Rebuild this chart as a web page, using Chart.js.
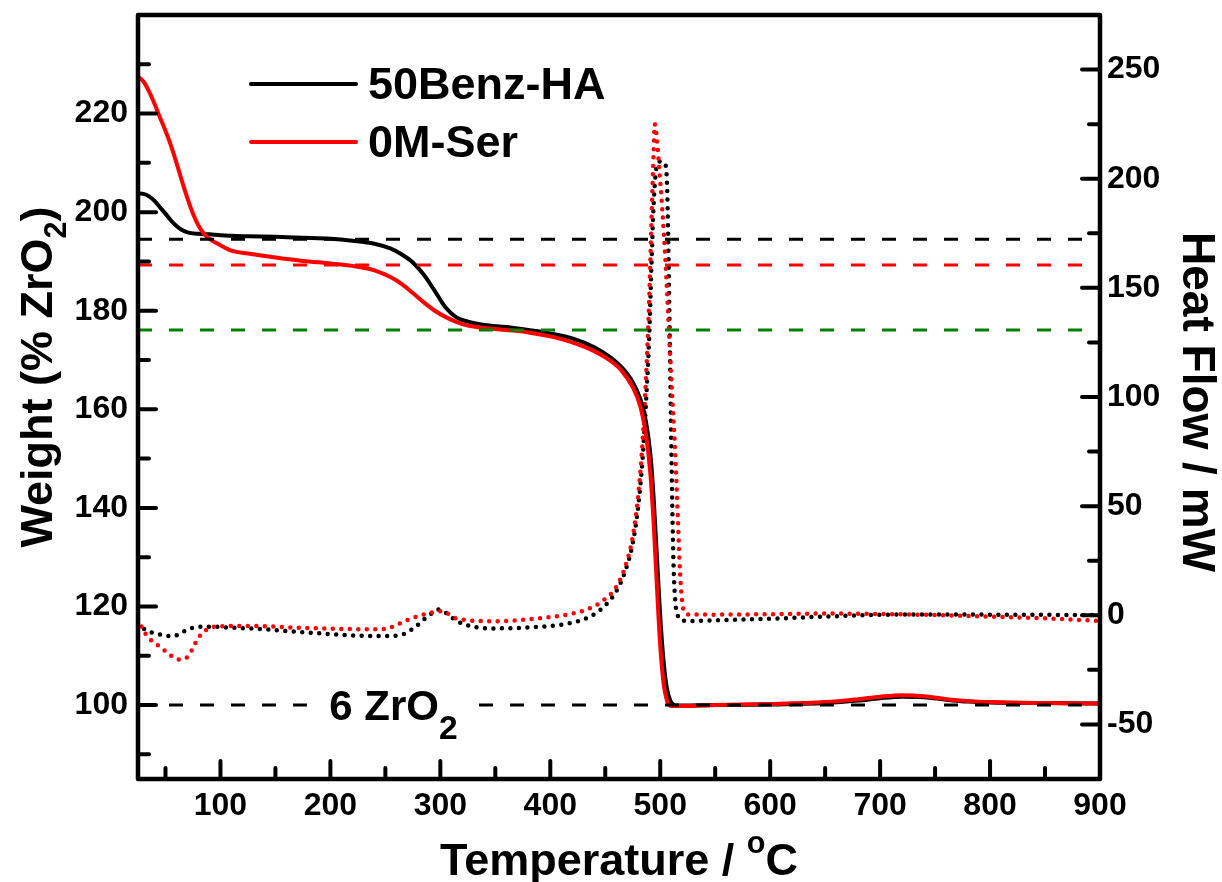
<!DOCTYPE html>
<html>
<head>
<meta charset="utf-8">
<script src="https://cdn.jsdelivr.net/npm/chart.js@4.4.1/dist/chart.umd.min.js"></script>
<style>
  html, body { margin: 0; padding: 0; background: #ffffff; }
  #wrap { width: 1222px; height: 882px; }
  canvas { display: block; }
</style>
</head>
<body>
<div id="wrap"><canvas id="tga" width="1222" height="882"></canvas></div>
<script>
// ---- TGA weight curves (left axis, % of ZrO2 residue) ----
const wTempBenz = [25, 30, 35, 40, 45, 50, 55, 60, 65, 70, 80, 90, 100, 125, 150, 175, 200, 220, 240, 255, 265, 275, 285, 295, 305, 315, 325, 340, 360, 380, 400, 420, 440, 455, 465, 475, 482, 487, 491, 494, 497, 500, 503, 506, 509, 512, 515, 520, 550, 600, 650, 680, 700, 720, 740, 760, 780, 800, 850, 900];
const weightBenz = [203.8, 203.7, 203.2, 202.3, 201.0, 199.7, 198.3, 197.2, 196.4, 195.9, 195.6, 195.5, 195.3, 195.1, 195.0, 194.8, 194.6, 194.2, 193.6, 192.6, 191.4, 189.8, 187.3, 184.0, 180.6, 178.6, 177.8, 177.1, 176.7, 176.1, 175.4, 174.4, 172.6, 170.5, 168.5, 165.5, 162.0, 157.5, 151.0, 142.0, 130.0, 118.0, 109.0, 103.5, 101.0, 100.1, 99.9, 99.9, 100.0, 100.1, 100.4, 100.9, 101.4, 101.7, 101.6, 101.1, 100.7, 100.5, 100.4, 100.3];

const wTempSer = [25, 30, 35, 40, 45, 50, 55, 60, 65, 70, 75, 80, 85, 90, 100, 110, 125, 150, 175, 200, 220, 240, 255, 265, 275, 285, 295, 305, 315, 325, 340, 360, 380, 400, 420, 440, 455, 465, 475, 482, 487, 491, 494, 497, 500, 503, 506, 509, 512, 520, 550, 600, 650, 680, 700, 720, 740, 760, 780, 800, 850, 900];
const weightSer = [227.5, 226.5, 224.5, 222.0, 219.2, 216.5, 213.5, 210.0, 206.3, 202.8, 199.7, 197.3, 195.6, 194.6, 193.3, 192.2, 191.6, 190.8, 190.1, 189.6, 189.1, 188.2, 186.8, 185.4, 183.6, 181.7, 180.0, 178.7, 177.7, 177.0, 176.5, 176.1, 175.6, 174.8, 173.6, 171.8, 169.8, 167.8, 164.5, 160.5, 155.0, 147.0, 137.0, 124.0, 112.0, 104.5, 101.0, 99.9, 99.8, 99.8, 100.0, 100.2, 100.6, 101.2, 101.7, 102.0, 101.8, 101.2, 100.8, 100.6, 100.4, 100.3];

// ---- DSC heat flow curves (right axis, mW) ----
const hTempBenz = [25, 30, 35, 40, 50, 56, 62, 70, 80, 90, 110, 140, 170, 200, 230, 250, 262, 270, 278, 286, 292, 298, 304, 312, 320, 335, 350, 370, 390, 410, 425, 440, 450, 460, 468, 475, 480, 484, 487, 490, 492, 494, 496, 498, 501, 504, 506, 508, 510, 512, 514, 517, 521, 530, 550, 600, 650, 700, 750, 800, 850, 900];
const heatBenz = [-3.5, -6.0, -7.5, -8.2, -9.3, -9.6, -8.8, -6.5, -5.3, -5.2, -5.7, -6.4, -7.6, -8.6, -9.4, -9.5, -9.2, -7.8, -5.0, -1.5, 0.8, 2.6, 1.5, -1.6, -3.8, -5.6, -6.0, -5.8, -5.3, -4.3, -2.8, 0.5, 4.5, 11, 20, 33, 50, 72, 97, 128, 160, 188, 203, 207, 208, 207, 200, 150, 80, 25, 5, -1.0, -2.5, -2.6, -2.3, -1.6, -0.6, 0.2, 0.4, 0.3, 0.2, 0.1];

const hTempSer = [25, 30, 35, 40, 48, 55, 62, 67, 71, 75, 79, 84, 90, 100, 120, 140, 170, 200, 230, 245, 255, 262, 270, 280, 290, 298, 304, 312, 320, 335, 355, 380, 400, 420, 435, 450, 460, 468, 475, 480, 484, 487, 490, 492, 494, 495, 497, 499, 502, 505, 508, 511, 514, 516, 518, 520, 522, 526, 550, 600, 650, 700, 750, 800, 850, 900];
const heatSer = [-1.5, -7.0, -10.5, -12.5, -15.7, -18.5, -20.3, -20.0, -18.6, -15.0, -11.0, -8.0, -5.8, -5.0, -4.9, -5.0, -5.7, -6.1, -6.4, -6.4, -5.5, -4.0, -2.2, -0.3, 1.0, 1.9, 1.6, -1.0, -2.0, -2.6, -2.7, -1.8, -0.8, 0.8, 3.0, 7.5, 13, 22, 36, 55, 80, 108, 145, 180, 212, 225, 218, 205, 185, 160, 130, 100, 70, 45, 20, 6, 1.5, 0.4, 0.3, 0.5, 0.8, 0.6, 0.1, -0.6, -1.4, -2.6];

// ---- reference levels (left axis) ----
const refLevels = [194.5, 189.3, 176.1, 100];
const refColors = ['#000000', '#ff0000', '#008000', '#000000'];

// ---- axes ----
const tempRange = [25, 900];
const weightRange = [85, 240];
const heatRange = [-75, 275];
const tempTicks = [100, 200, 300, 400, 500, 600, 700, 800, 900];
const tempMinor = [50, 150, 250, 350, 450, 550, 650, 750, 850];
const weightTicks = [100, 120, 140, 160, 180, 200, 220];
const weightMinor = [90, 110, 130, 150, 170, 190, 210, 230];
const heatTicks = [-50, 0, 50, 100, 150, 200, 250];
const heatMinor = [-25, 25, 75, 125, 175, 225];

const seriesNames = ['50Benz-HA', '0M-Ser'];
const FONT = '"Liberation Sans", Arial, Helvetica, sans-serif';

const pts = (xs, ys) => xs.map((x, i) => ({ x: x, y: ys[i] }));

const datasets = [];
refLevels.forEach((lv, i) => {
  datasets.push({
    label: 'ref' + i,
    data: [{ x: tempRange[0], y: lv }, { x: tempRange[1], y: lv }],
    yAxisID: 'y', borderColor: refColors[i], borderWidth: 3,
    borderDash: [14, 17], pointRadius: 0, fill: false
  });
});
datasets.push({
  label: seriesNames[1], data: pts(wTempSer, weightSer), yAxisID: 'y',
  borderColor: '#ff0000', borderWidth: 4, pointRadius: 0, cubicInterpolationMode: 'monotone'
});
datasets.push({
  label: seriesNames[0], data: pts(wTempBenz, weightBenz), yAxisID: 'y',
  borderColor: '#000000', borderWidth: 4, pointRadius: 0, cubicInterpolationMode: 'monotone'
});
datasets.push({
  label: seriesNames[1] + ' DSC', data: pts(hTempSer, heatSer), yAxisID: 'y1',
  borderColor: '#ff0000', borderWidth: 4.5, borderDash: [0, 8.5], borderCapStyle: 'round',
  pointRadius: 0, cubicInterpolationMode: 'monotone'
});
datasets.push({
  label: seriesNames[0] + ' DSC', data: pts(hTempBenz, heatBenz), yAxisID: 'y1',
  borderColor: '#000000', borderWidth: 4.5, borderDash: [0, 8.5], borderCapStyle: 'round',
  pointRadius: 0, cubicInterpolationMode: 'monotone'
});

// draw rich text (sub/superscripts) as a row of runs
function richWidth(ctx, runs, size) {
  let w = 0;
  runs.forEach(r => { ctx.font = 'bold ' + (size * (r.s || 1)) + 'px ' + FONT; w += ctx.measureText(r.t).width; });
  return w;
}
function drawRich(ctx, runs, x, y, size) {
  let cx = x;
  runs.forEach(r => {
    ctx.font = 'bold ' + (size * (r.s || 1)) + 'px ' + FONT;
    ctx.fillText(r.t, cx, y + (r.dy || 0) * size);
    cx += ctx.measureText(r.t).width;
  });
}

const framePlugin = {
  id: 'frame',
  afterDatasetsDraw(chart) {
    const { ctx, chartArea: a, scales } = chart;
    ctx.save();
    ctx.fillStyle = '#000';
    ctx.textBaseline = 'alphabetic';

    // "6 ZrO2" label sitting on the 100 % line
    const lx = scales.x.getPixelForValue(199), ly = scales.y.getPixelForValue(refLevels[3]);
    const labRuns = [{ t: '6 ZrO' }, { t: '2', s: 0.8, dy: 0.45 }];
    const lw = richWidth(ctx, labRuns, 42);
    ctx.fillStyle = '#fff';
    ctx.fillRect(lx - 10, ly - 8, lw + 20, 16);
    ctx.fillStyle = '#000';
    drawRich(ctx, labRuns, lx, ly + 15, 42);

    // frame
    ctx.strokeStyle = '#000';
    ctx.lineWidth = 4.5;
    ctx.lineJoin = 'round';
    ctx.strokeRect(a.left, a.top, a.right - a.left, a.bottom - a.top);

    // inward tick marks
    ctx.lineCap = 'round';
    ctx.lineWidth = 4;
    const tick = (x1, y1, x2, y2) => { ctx.beginPath(); ctx.moveTo(x1, y1); ctx.lineTo(x2, y2); ctx.stroke(); };
    tempTicks.forEach(v => { const p = scales.x.getPixelForValue(v); if (p < a.right - 2) tick(p, a.bottom, p, a.bottom - 18); });
    tempMinor.forEach(v => { const p = scales.x.getPixelForValue(v); tick(p, a.bottom, p, a.bottom - 11); });
    weightTicks.forEach(v => { const p = scales.y.getPixelForValue(v); tick(a.left, p, a.left + 18, p); });
    weightMinor.forEach(v => { const p = scales.y.getPixelForValue(v); tick(a.left, p, a.left + 11, p); });
    heatTicks.forEach(v => { const p = scales.y1.getPixelForValue(v); tick(a.right, p, a.right - 18, p); });
    heatMinor.forEach(v => { const p = scales.y1.getPixelForValue(v); tick(a.right, p, a.right - 11, p); });

    // legend
    const legY = [84, 142];
    const legCol = ['#000000', '#ff0000'];
    ctx.lineCap = 'round';
    ctx.textBaseline = 'middle';
    seriesNames.forEach((n, i) => {
      ctx.strokeStyle = legCol[i];
      ctx.lineWidth = 4;
      tick(251, legY[i], 356, legY[i]);
      ctx.fillStyle = '#000';
      ctx.font = 'bold 45px ' + FONT;
      ctx.fillText(n, 368, legY[i] + 3);
    });

    // axis titles
    ctx.textBaseline = 'alphabetic';
    ctx.fillStyle = '#000';
    const ts = 45;
    const xt = [{ t: 'Temperature / ' }, { t: 'o', s: 0.68, dy: -0.48 }, { t: 'C' }];
    const xw = richWidth(ctx, xt, ts);
    drawRich(ctx, xt, (a.left + a.right) / 2 - xw / 2, 875, ts);

    const yt = [{ t: 'Weight (% ZrO' }, { t: '2', s: 0.68, dy: 0.3 }, { t: ')' }];
    const yw = richWidth(ctx, yt, 45);
    ctx.save();
    ctx.translate(52, (a.top + a.bottom) / 2 - 20);
    ctx.rotate(-Math.PI / 2);
    drawRich(ctx, yt, -yw / 2, 0, 45);
    ctx.restore();

    const rt = [{ t: 'Heat Flow / mW' }];
    const rw = richWidth(ctx, rt, 46);
    ctx.save();
    ctx.translate(1183, (a.top + a.bottom) / 2 + 5);
    ctx.rotate(Math.PI / 2);
    drawRich(ctx, rt, -rw / 2, 0, 46);
    ctx.restore();
    ctx.restore();
  }
};

const tickFont = { family: FONT, size: 32, weight: 'bold' };
const setTicks = arr => scale => { scale.ticks = arr.map(v => ({ value: v })); };
// the plot frame is fixed, so edge labels must not push it inward
const noPad = s => { s.paddingTop = 0; s.paddingBottom = 0; s.paddingLeft = 0; s.paddingRight = 0; };

new Chart(document.getElementById('tga'), {
  type: 'line',
  data: { datasets: datasets },
  plugins: [framePlugin],
  options: {
    responsive: false,
    animation: false,
    devicePixelRatio: 1,
    layout: { padding: { top: 15, left: 0, right: 0, bottom: 0 } },
    plugins: { legend: { display: false }, tooltip: { enabled: false } },
    elements: { line: { tension: 0 } },
    scales: {
      x: {
        type: 'linear', position: 'bottom', min: tempRange[0], max: tempRange[1],
        afterBuildTicks: setTicks(tempTicks),
        afterFit: s => { s.height = 103; noPad(s); },
        grid: { display: false, drawTicks: false }, border: { display: false },
        ticks: { font: tickFont, color: '#000', padding: 8, maxRotation: 0, autoSkip: false }
      },
      y: {
        type: 'linear', position: 'left', min: weightRange[0], max: weightRange[1],
        afterBuildTicks: setTicks(weightTicks),
        afterFit: s => { s.width = 138; noPad(s); },
        grid: { display: false, drawTicks: false }, border: { display: false },
        ticks: { font: tickFont, color: '#000', padding: 10, autoSkip: false }
      },
      y1: {
        type: 'linear', position: 'right', min: heatRange[0], max: heatRange[1],
        afterBuildTicks: setTicks(heatTicks),
        afterFit: s => { s.width = 122; noPad(s); },
        grid: { display: false, drawTicks: false }, border: { display: false },
        ticks: { font: tickFont, color: '#000', padding: 7, autoSkip: false }
      }
    }
  }
});
</script>
</body>
</html>
